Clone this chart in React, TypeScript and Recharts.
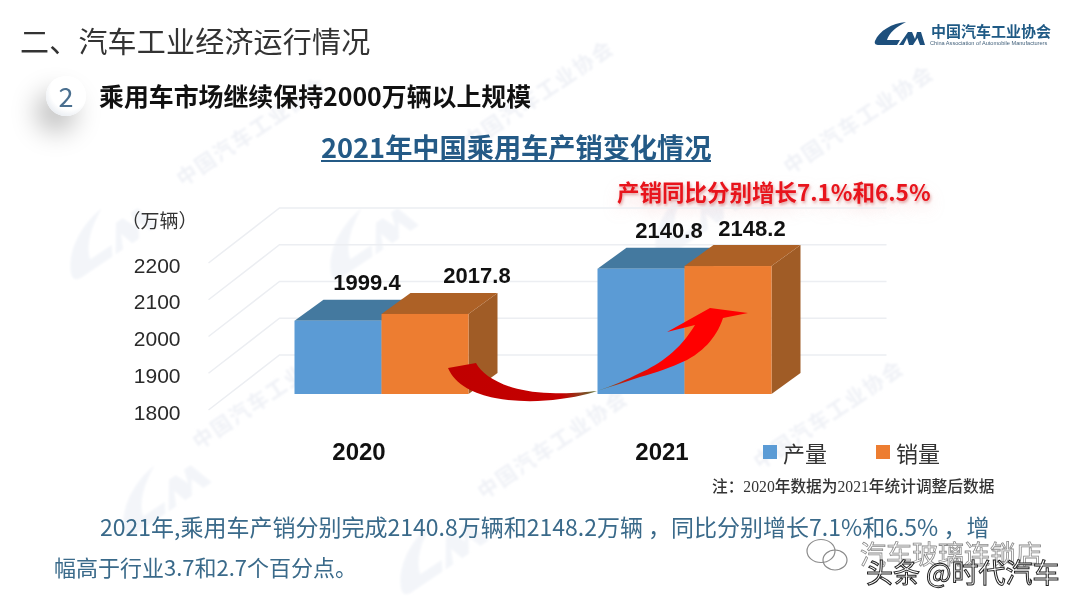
import { BarChart, Bar, XAxis, YAxis, CartesianGrid, Legend, LabelList } from "recharts";

// ─── Data ──────────────────────────────────────────────────────────

const years = ["2020", "2021"];
const production = [1999.4, 2140.8];
const sales = [2017.8, 2148.2];
const yTicks = [1800, 1900, 2000, 2100, 2200];

const chartData = years.map((year, i) => ({
  year,
  production: production[i],
  sales: sales[i],
}));

const CJK = '"Noto Sans CJK SC", sans-serif';
const LATIN = '"Liberation Sans", "Noto Sans CJK SC", sans-serif';
const SERIF = '"Liberation Serif", "Noto Sans CJK SC", serif';

// Depth of the fake 3D box
const DEPTH_X = 29;
const DEPTH_Y = 21;

// The labels were nudged by hand in the slide
const productionLabelShift = [29, 28];
const salesLabelShift = [52, 24];

const LOGO_C =
  "M906,22 C892,23 879,31 875,41 C874,44 876,45 879,45 L897,45 L900,40 L887,40 C889,33 896,27 906,22 Z";
const LOGO_M =
  "M899,45 L908,32 L912,32 L915,39 L917,32 L921,32 L925,45 L920,45 L917.5,38 L913,45 L909,45 L907,38 L903.5,45 Z";

const watermarkTexts = [
  { x: 183, y: 187 },
  { x: 470, y: 150 },
  { x: 790, y: 175 },
  { x: 199, y: 450 },
  { x: 484, y: 500 },
  { x: 760, y: 470 },
];
const watermarkLogos = [
  { x: 105, y: 235 },
  { x: 365, y: 235 },
  { x: 690, y: 215 },
  { x: 158, y: 492 },
  { x: 435, y: 550 },
];

// ─── Chart parts ───────────────────────────────────────────────────

function Box3D(props: any) {
  const { x, y, width, height, fill, topFill, sideFill } = props;
  const r = x + width;
  const b = y + height;
  return (
    <g>
      <polygon
        points={`${r},${y} ${r + DEPTH_X},${y - DEPTH_Y} ${r + DEPTH_X},${b - DEPTH_Y} ${r},${b}`}
        fill={sideFill}
      />
      <polygon
        points={`${x},${y} ${x + DEPTH_X},${y - DEPTH_Y} ${r + DEPTH_X},${y - DEPTH_Y} ${r},${y}`}
        fill={topFill}
      />
      <rect x={x} y={y} width={width} height={height} fill={fill} />
    </g>
  );
}

// Wall gridline with the floor diagonal running to the axis label
function WallLine(props: any) {
  const { x1, x2, y1 } = props;
  return (
    <polyline
      key={props.key}
      points={`${x1 - 21},${y1 + 16} ${x1 + 50},${y1 - 39} ${x2 + 51},${y1 - 39}`}
      fill="none"
      stroke="#eceef2"
      strokeWidth={1.5}
    />
  );
}

function YTick({ x, y, payload }: any) {
  return (
    <text
      x={x - 41}
      y={y + 18}
      textAnchor="end"
      dominantBaseline="central"
      fontFamily={LATIN}
      fontSize={21}
      fill="#2a2a2a"
    >
      {payload.value}
    </text>
  );
}

function XTick({ x, y, payload }: any) {
  return (
    <text
      x={x - 22}
      y={y + 49}
      textAnchor="middle"
      dominantBaseline="central"
      fontFamily={LATIN}
      fontWeight="bold"
      fontSize={24}
      fill="#111"
    >
      {payload.value}
    </text>
  );
}

function valueLabel(shifts: number[]) {
  return function ValueLabel({ x, y, width, value, index }: any) {
    return (
      <text
        x={x + width / 2 + shifts[index]}
        y={y - 38}
        textAnchor="middle"
        dominantBaseline="central"
        fontFamily={LATIN}
        fontWeight="bold"
        fontSize={22}
        fill="#111"
      >
        {Number(value).toFixed(1)}
      </text>
    );
  };
}

function SlideLegend({ payload }: any) {
  return (
    <div style={{ display: "flex", alignItems: "center", fontFamily: CJK, fontSize: 22, color: "#333" }}>
      {(payload || []).map((item: any, i: number) => (
        <div key={i} style={{ display: "flex", alignItems: "center", width: 113 }}>
          <span style={{ width: 14, height: 14, background: item.color, marginRight: 6 }} />
          {item.value}
        </div>
      ))}
    </div>
  );
}

// ─── Slide decoration ──────────────────────────────────────────────

function text(left: number, top: number, style: any, content: any) {
  return (
    <div
      style={{
        position: "absolute",
        left,
        top,
        whiteSpace: "nowrap",
        fontFamily: CJK,
        lineHeight: 1,
        ...style,
      }}
    >
      {content}
    </div>
  );
}

function Background() {
  return (
    <svg width={1080} height={604} style={{ position: "absolute", left: 0, top: 0 }}>
      <defs>
        <filter id="soft">
          <feGaussianBlur stdDeviation="0.8" />
        </filter>
      </defs>
      <g filter="url(#soft)">
        {watermarkLogos.map((w, i) => (
          <g
            key={i}
            transform={`translate(${w.x},${w.y}) rotate(-34) scale(2) translate(-900,-34)`}
            fill="#f3f5f9"
          >
            <path d={LOGO_C} />
            <path d={LOGO_M} />
          </g>
        ))}
        {watermarkTexts.map((w, i) => (
          <text
            key={i}
            transform={`translate(${w.x},${w.y}) rotate(-34)`}
            fontFamily={CJK}
            fontWeight="bold"
            fontSize={20}
            letterSpacing={2}
            fill="#eff1f6"
          >
            中国汽车工业协会
          </text>
        ))}
      </g>
    </svg>
  );
}

function Overlay() {
  return (
    <svg width={1080} height={604} style={{ position: "absolute", left: 0, top: 0 }}>
      <defs>
        <linearGradient id="arrowFill" x1="448" x2="748" y1="0" y2="0" gradientUnits="userSpaceOnUse">
          <stop offset="0" stopColor="#c00000" />
          <stop offset="0.38" stopColor="#c40000" />
          <stop offset="0.5" stopColor="#5a7a3a" />
          <stop offset="0.6" stopColor="#d0100a" />
          <stop offset="0.72" stopColor="#ff0000" />
          <stop offset="1" stopColor="#ff0000" />
        </linearGradient>
      </defs>
      {/* Growth arrow */}
      <path
        d="M448,368 L476,363 C484,378 510,392 550,393 C570,394 585,392 597,391 C612,386 628,379 640,373 C660,364 680,350 695,325 L667,332 L710,308 L748,313 L723,318 C716,340 700,353 687,360 C670,368 655,373 640,377 C625,382 610,387 597,391 C585,395 575,397 560,399 C540,402 515,402 495,398 C475,394 455,385 448,368 Z"
        fill="url(#arrowFill)"
      />
      {/* Logo mark */}
      <path d={LOGO_C} fill="#1d4f7c" />
      <path d={LOGO_M} fill="#1d4f7c" />
      {/* Reposted-image stamps */}
      <g fill="none" stroke="#8a8a8a" strokeWidth={1.2}>
        <ellipse cx={821} cy={551} rx={14} ry={11.5} />
        <ellipse cx={835} cy={560} rx={12} ry={10} />
      </g>
      <text
        x={860}
        y={564}
        fontFamily={CJK}
        fontSize={26}
        fill="#fff"
        stroke="#8a8a8a"
        strokeWidth={0.8}
      >
        汽车玻璃连锁店
      </text>
      <text
        x={866}
        y={583}
        fontFamily={CJK}
        fontSize={27}
        fill="#fff"
        stroke="#222"
        strokeWidth={1}
      >
        头条 @时代汽车
      </text>
    </svg>
  );
}

// ─── Component ─────────────────────────────────────────────────────

export default function App() {
  return (
    <div
      style={{
        position: "fixed",
        left: 0,
        top: 0,
        width: 1080,
        height: 604,
        background: "#fff",
        overflow: "hidden",
      }}
    >
      <Background />

      {text(20, 26, { fontSize: 29, color: "#333", letterSpacing: 0.2 }, "二、汽车工业经济运行情况")}

      <div
        style={{
          position: "absolute",
          left: 46,
          top: 76,
          width: 40,
          height: 40,
          borderRadius: 20,
          background: "radial-gradient(circle at 60% 35%, #ffffff 55%, #d5dce6 100%)",
          boxShadow: "-10px 16px 26px rgba(0,0,0,0.25)",
          textAlign: "center",
          fontFamily: CJK,
          fontSize: 27,
          lineHeight: "40px",
          color: "#4a6f8f",
        }}
      >
        2
      </div>
      {text(99, 83, { fontSize: 24.9, fontWeight: 700, color: "#111" }, "乘用车市场继续保持2000万辆以上规模")}

      {text(321, 133, {
        fontSize: 27.2,
        fontWeight: 700,
        color: "#245a86",
        borderBottom: "2px solid #245a86",
      }, "2021年中国乘用车产销变化情况")}

      {text(617, 180, {
        fontSize: 22.5,
        fontWeight: 700,
        color: "#e8141c",
        textShadow: "1px 2px 3px rgba(200,90,90,0.55), 0 8px 16px rgba(235,160,160,0.35)",
      }, "产销同比分别增长7.1%和6.5%")}

      {text(121.5, 209.5, { fontSize: 19, color: "#333" }, "（万辆）")}

      {/* Logo text */}
      {text(931, 23, { fontSize: 15, fontWeight: 700, color: "#1f5a85" }, "中国汽车工业协会")}
      {text(930, 41, { fontSize: 5.6, color: "#44627c", fontFamily: LATIN }, "China Association of Automobile Manufacturers")}

      <div style={{ position: "absolute", left: 0, top: 0 }}>
        <BarChart
          width={1080}
          height={604}
          data={chartData}
          barSize={87}
          barGap={0}
          margin={{ top: 247, right: 244.5, bottom: 150, left: 169.5 }}
        >
          <CartesianGrid vertical={false} horizontal={WallLine} />
          <XAxis
            dataKey="year"
            axisLine={false}
            tickLine={false}
            height={60}
            interval={0}
            tick={XTick}
          />
          <YAxis
            domain={[1800, 2200]}
            ticks={yTicks}
            axisLine={false}
            tickLine={false}
            width={60}
            tick={YTick}
          />
          <Legend
            layout="horizontal"
            align="center"
            verticalAlign="middle"
            wrapperStyle={{ left: 763, top: 436, width: 240 }}
            content={SlideLegend}
          />
          <Bar
            dataKey="production"
            name="产量"
            fill="#5b9bd5"
            isAnimationActive={false}
            shape={(p: any) => <Box3D {...p} topFill="#44799f" sideFill="#44799f" />}
          >
            <LabelList dataKey="production" content={valueLabel(productionLabelShift)} />
          </Bar>
          <Bar
            dataKey="sales"
            name="销量"
            fill="#ed7d31"
            isAnimationActive={false}
            shape={(p: any) => <Box3D {...p} topFill="#ad6126" sideFill="#a05c26" />}
          >
            <LabelList dataKey="sales" content={valueLabel(salesLabelShift)} />
          </Bar>
        </BarChart>
      </div>

      {text(712, 479, { fontSize: 15.7, color: "#333", fontFamily: SERIF, fontWeight: 500 }, "注：2020年数据为2021年统计调整后数据")}

      {text(100, 515, { fontSize: 23, color: "#3a6a8a" }, "2021年,乘用车产销分别完成2140.8万辆和2148.2万辆 ，同比分别增长7.1%和6.5% ，增")}
      {text(54, 555, { fontSize: 22, color: "#3a6a8a" }, "幅高于行业3.7和2.7个百分点。")}

      <Overlay />
    </div>
  );
}
